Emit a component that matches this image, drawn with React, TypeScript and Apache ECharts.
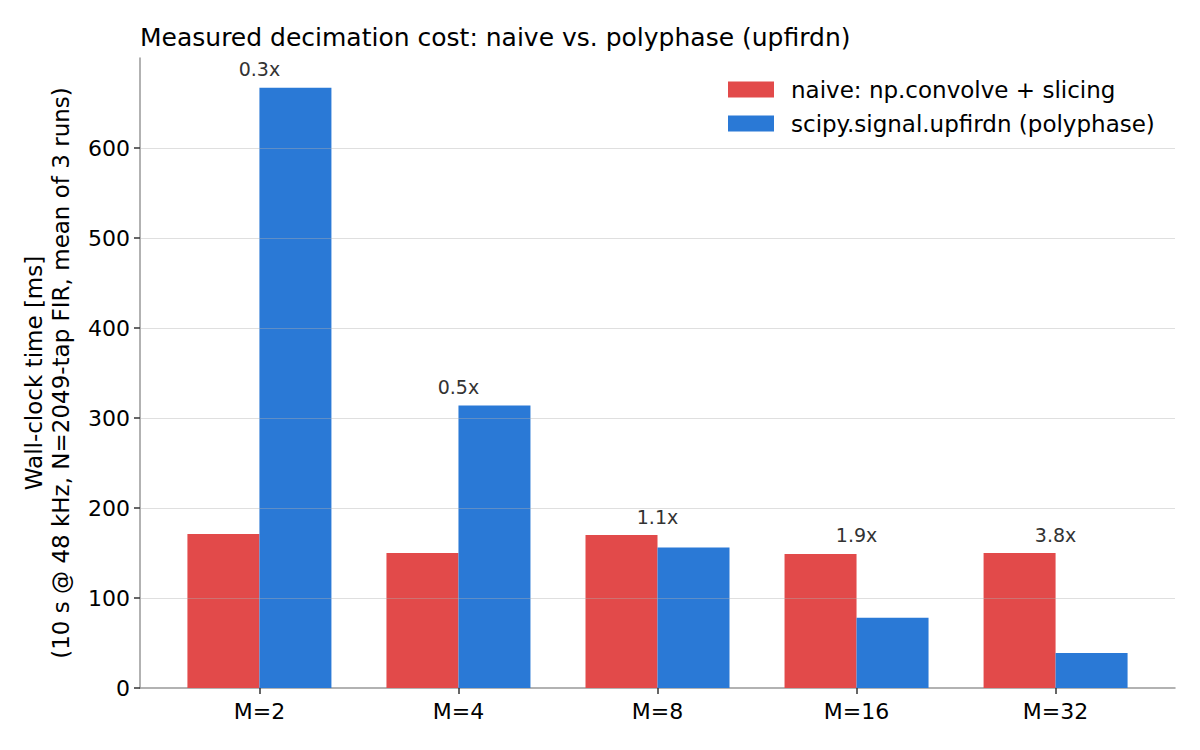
import React, { useEffect, useRef } from "react";
import * as echarts from "echarts";

const categories = ["M=2", "M=4", "M=8", "M=16", "M=32"];
const naiveMs = [171, 150, 170, 149, 150];
const upfirdnMs = [667, 314, 156, 78, 39];
const speedupLabels = ["0.3x", "0.5x", "1.1x", "1.9x", "3.8x"];
const yTicks = [0, 100, 200, 300, 400, 500, 600];
const xPositions = [0, 1, 2, 3, 4];

const FONT = "DejaVu Sans";

export default function App() {
  const ref = useRef<HTMLDivElement>(null);
  useEffect(() => {
    if (!ref.current) return;
    const chart = echarts.init(ref.current, null, { renderer: "svg" });
    chart.setOption({
      animation: false,
      textStyle: { fontFamily: FONT },
      title: {
        text: "Measured decimation cost: naive vs. polyphase (upfirdn)",
        left: 132,
        top: 17,
        padding: 0,
        textStyle: { fontFamily: FONT, fontSize: 25, fontWeight: "normal", color: "#000" },
      },
      legend: {
        orient: "vertical",
        left: 720,
        top: 70,
        padding: 0,
        itemWidth: 46,
        itemHeight: 16,
        itemGap: 11,
        itemTextGap: 18,
        icon: "rect",
        textStyle: { fontFamily: FONT, fontSize: 23, color: "#000", padding: [0, 0, 0, 12] },
        data: ["naive: np.convolve + slicing", "scipy.signal.upfirdn (polyphase)"],
      },
      grid: { left: 132, right: 17, top: 50, bottom: 54, containLabel: false },
      xAxis: {
        type: "value",
        min: -0.6,
        max: 4.6,
        axisLine: { show: true, onZero: false, lineStyle: { color: "#999", width: 1.5 } },
        axisTick: { show: true, length: 6, customValues: xPositions, lineStyle: { color: "#333", width: 1.5 } },
        axisLabel: {
          fontFamily: FONT,
          fontSize: 22,
          color: "#000",
          margin: 12,
          customValues: xPositions,
          formatter: (v: number) => categories[Math.round(v)] ?? "",
        },
        splitLine: { show: false },
      },
      yAxis: {
        type: "value",
        min: 0,
        max: 700,
        interval: 100,
        name: "Wall-clock time [ms]\n(10 s @ 48 kHz, N=2049-tap FIR, mean of 3 runs)",
        nameLocation: "middle",
        nameRotate: 90,
        nameGap: 66,
        nameTextStyle: { fontFamily: FONT, fontSize: 23, color: "#000", lineHeight: 27 },
        axisLine: { show: true, onZero: false, lineStyle: { color: "#999", width: 1.5 } },
        axisTick: { show: true, length: 6, customValues: yTicks, lineStyle: { color: "#333", width: 1.5 } },
        axisLabel: { fontFamily: FONT, fontSize: 22, color: "#000", margin: 10, customValues: yTicks },
        splitLine: { show: false },
      },
      series: [
        {
          name: "naive: np.convolve + slicing",
          type: "bar",
          data: naiveMs.map((v, i) => [xPositions[i], v]),
          barWidth: 72,
          barGap: "0%",
          itemStyle: { color: "#e24a4a" },
        },
        {
          name: "scipy.signal.upfirdn (polyphase)",
          type: "bar",
          data: upfirdnMs.map((v, i) => [xPositions[i], v]),
          barWidth: 72,
          barGap: "0%",
          itemStyle: { color: "#2a79d6" },
          markLine: {
            silent: true,
            symbol: ["none", "none"],
            label: { show: false },
            lineStyle: { color: "rgba(176,176,176,0.4)", type: "solid", width: 1 },
            z: 10,
            data: yTicks.slice(1).map((v) => ({ yAxis: v })),
          },
        },
        {
          name: "speedup",
          type: "scatter",
          symbolSize: 0,
          silent: true,
          itemStyle: { opacity: 1, color: "#333" },
          data: xPositions.map((x, i) => ({
            name: speedupLabels[i],
            value: [x, Math.max(naiveMs[i], upfirdnMs[i])],
          })),
          label: {
            show: true,
            position: "top",
            distance: 9,
            fontFamily: FONT,
            fontSize: 19,
            color: "#333",
            opacity: 1,
            formatter: (p: any) => p.name,
          },
        },
      ],
    });
    return () => chart.dispose();
  }, []);
  return <div ref={ref} style={{ width: 1184, height: 734 }} />;
}
